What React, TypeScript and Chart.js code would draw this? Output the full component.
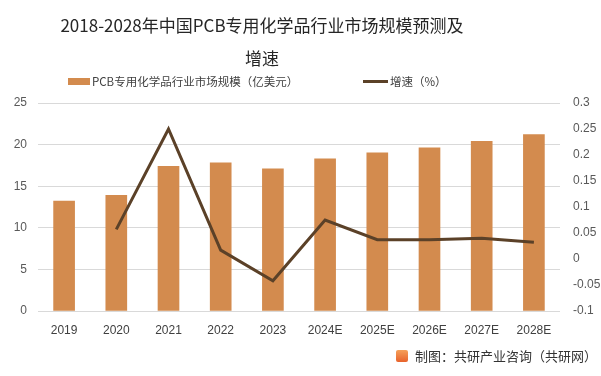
import React, { useEffect, useRef } from "react";
import { Chart, registerables } from "chart.js";

Chart.register(...registerables);

const categories = ["2019", "2020", "2021", "2022", "2023", "2024E", "2025E", "2026E", "2027E", "2028E"];
const marketSize = [13.2, 13.9, 17.4, 17.8, 17.1, 18.3, 19.0, 19.6, 20.4, 21.2];
const growthRate = [null, 0.057, 0.25, 0.017, -0.042, 0.075, 0.037, 0.037, 0.04, 0.032];

const titleLines = ["2018-2028年中国PCB专用化学品行业市场规模预测及", "增速"];
const barLabel = "PCB专用化学品行业市场规模（亿美元）";
const lineLabel = "增速（%）";
const sourceText = "制图：共研产业咨询（共研网）";

const BAR_COLOR = "#D38B4E";
const LINE_COLOR = "#5B4128";
const CJK = '"Noto Sans CJK SC", "Noto Sans", sans-serif';

export default function App() {
  const ref = useRef<HTMLCanvasElement | null>(null);

  useEffect(() => {
    if (!ref.current) return;
    const chart = new Chart(ref.current, {
      type: "bar",
      data: {
        labels: categories,
        datasets: [
          {
            type: "line",
            label: lineLabel,
            data: growthRate as any,
            yAxisID: "y1",
            borderColor: LINE_COLOR,
            backgroundColor: LINE_COLOR,
            borderWidth: 3,
            pointRadius: 0,
            tension: 0,
            order: 0,
          },
          {
            type: "bar",
            label: barLabel,
            data: marketSize,
            yAxisID: "y",
            backgroundColor: BAR_COLOR,
            barThickness: 21,
            order: 1,
          },
        ],
      },
      options: {
        responsive: false,
        animation: false,
        layout: { padding: { top: 103, left: 0, right: 0, bottom: 0 } },
        plugins: {
          legend: { display: false },
          title: { display: false },
          tooltip: { enabled: false },
        },
        scales: {
          x: {
            grid: { display: false, drawTicks: false },
            border: { display: false },
            ticks: {
              color: "#404040",
              font: { family: '"Liberation Sans", sans-serif', size: 12 },
              padding: 12,
              maxRotation: 0,
            },
            afterFit: (s: any) => {
              s.height = 65;
            },
          },
          y: {
            position: "left",
            min: 0,
            max: 25,
            ticks: {
              stepSize: 5,
              color: "#595959",
              font: { family: '"Liberation Sans", sans-serif', size: 12 },
              padding: 11,
            },
            grid: { color: "#D9D9D9", drawTicks: false, lineWidth: 1 },
            border: { display: false },
            afterFit: (s: any) => {
              s.width = 38;
            },
          },
          y1: {
            position: "right",
            min: -0.1,
            max: 0.3,
            ticks: {
              stepSize: 0.05,
              color: "#595959",
              font: { family: '"Liberation Sans", sans-serif', size: 12 },
              padding: 13,
              callback: (v: any) => String(+Number(v).toFixed(2)),
            },
            grid: { display: false, drawTicks: false },
            border: { display: false },
            afterFit: (s: any) => {
              s.width = 41;
            },
          },
        },
      },
    });
    return () => chart.destroy();
  }, []);

  return (
    <div
      style={{
        position: "fixed",
        left: 0,
        top: 0,
        width: 601,
        height: 376,
        background: "#ffffff",
        overflow: "hidden",
        fontFamily: CJK,
      }}
    >
      <canvas ref={ref} width={601} height={376} style={{ position: "absolute", left: 0, top: 0 }} />
      <div
        style={{
          position: "absolute",
          left: 0,
          top: 8,
          width: 524,
          textAlign: "center",
          fontSize: 17,
          lineHeight: "33px",
          color: "#262626",
        }}
      >
        {titleLines.map((t, i) => (
          <div key={i}>{t}</div>
        ))}
      </div>
      <div style={{ position: "absolute", left: 68, top: 78, width: 22, height: 7, background: BAR_COLOR }} />
      <div
        style={{
          position: "absolute",
          left: 92,
          top: 72,
          fontSize: 11.5,
          lineHeight: "18px",
          color: "#404040",
          whiteSpace: "nowrap",
        }}
      >
        {barLabel}
      </div>
      <div style={{ position: "absolute", left: 363, top: 80, width: 25, height: 3, background: LINE_COLOR }} />
      <div
        style={{
          position: "absolute",
          left: 390,
          top: 72,
          fontSize: 11.5,
          lineHeight: "18px",
          color: "#404040",
          whiteSpace: "nowrap",
        }}
      >
        {lineLabel}
      </div>
      <div
        style={{
          position: "absolute",
          left: 396,
          top: 350,
          width: 12,
          height: 12,
          borderRadius: 2,
          background: "linear-gradient(180deg, #F5A05A, #E8632C)",
        }}
      />
      <div
        style={{
          position: "absolute",
          right: 4,
          top: 347,
          fontSize: 13,
          lineHeight: "18px",
          color: "#333333",
          whiteSpace: "nowrap",
        }}
      >
        {sourceText}
      </div>
    </div>
  );
}
